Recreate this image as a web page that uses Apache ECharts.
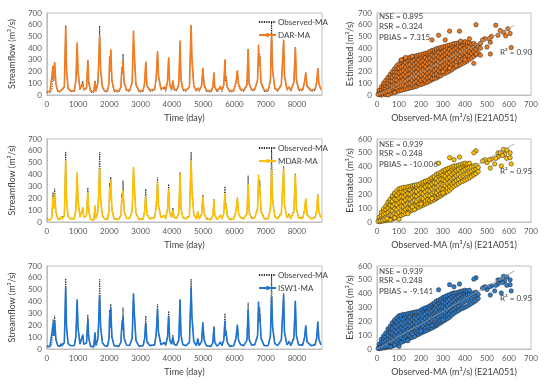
<!DOCTYPE html>
<html><head><meta charset="utf-8">
<script src="https://cdn.jsdelivr.net/npm/echarts@6/dist/echarts.min.js"></script>
<style>html,body{margin:0;padding:0;background:#fff}#c{width:550px;height:384px}</style>
</head><body><div id="c"></div>
<script>
// ---------- Time series (day, m3/s) ----------
const observedMA = [[0,25],[100,20],[160,40],[200,250],[225,120],[250,280],[290,90],[350,30],[420,25],[447,40],[480,25],[560,60],[604,595],[630,200],[680,50],[760,30],[880,30],[930,120],[969,390],[1000,180],[1060,45],[1120,30],[1150,120],[1180,40],[1270,50],[1312,290],[1340,100],[1400,25],[1500,20],[1541,120],[1570,30],[1630,90],[1655,240],[1690,590],[1720,200],[1780,60],[1850,30],[1940,25],[1990,100],[2010,330],[2025,200],[2045,380],[2080,120],[2150,30],[2300,25],[2370,60],[2400,240],[2420,180],[2437,350],[2470,100],[2550,35],[2650,30],[2730,100],[2771,460],[2800,300],[2850,80],[2950,25],[3080,30],[3130,100],[3145,190],[3166,280],[3200,70],[3300,30],[3450,40],[3500,150],[3541,375],[3570,150],[3650,40],[3760,60],[3800,30],[3860,110],[3896,320],[3930,80],[3990,40],[4031,120],[4070,40],[4150,35],[4220,80],[4260,420],[4290,120],[4350,40],[4450,30],[4560,60],[4615,590],[4640,300],[4700,70],[4780,30],[4830,60],[4870,30],[4950,70],[4990,230],[5030,80],[5100,30],[5250,25],[5310,60],[5344,190],[5370,60],[5450,25],[5552,60],[5600,30],[5660,80],[5698,300],[5715,120],[5730,160],[5770,60],[5850,25],[5980,30],[6050,100],[6094,205],[6130,80],[6200,40],[6300,30],[6400,80],[6438,390],[6470,90],[6550,35],[6650,40],[6740,120],[6771,360],[6790,250],[6810,350],[6850,100],[6950,30],[7080,30],[7150,120],[7188,630],[7220,200],[7290,50],[7380,30],[7500,80],[7573,470],[7600,150],[7680,40],[7750,70],[7800,30],[7900,100],[7948,410],[7980,120],[8050,40],[8180,35],[8240,100],[8281,190],[8320,70],[8450,30],[8580,40],[8630,100],[8666,230],[8700,90],[8766,40]];

const darMA = [[0,30],[100,30],[160,45],[200,250],[225,130],[250,280],[290,100],[350,35],[420,30],[447,45],[480,30],[560,70],[604,580],[630,220],[680,60],[760,35],[880,35],[930,130],[969,450],[1000,200],[1060,50],[1120,40],[1150,100],[1180,50],[1270,60],[1312,300],[1340,110],[1400,35],[1500,30],[1541,120],[1570,40],[1630,100],[1655,240],[1690,505],[1720,220],[1780,70],[1850,35],[1940,35],[1990,110],[2010,330],[2025,210],[2045,390],[2080,130],[2150,40],[2300,35],[2370,70],[2400,240],[2420,190],[2437,300],[2470,110],[2550,45],[2650,40],[2730,110],[2771,550],[2800,350],[2850,90],[2950,35],[3080,40],[3130,110],[3145,190],[3166,285],[3200,80],[3300,40],[3450,50],[3500,160],[3541,370],[3570,170],[3650,50],[3760,70],[3800,40],[3860,120],[3896,320],[3930,90],[3990,50],[4031,125],[4070,50],[4150,45],[4220,90],[4260,465],[4290,140],[4350,50],[4450,40],[4560,70],[4615,600],[4640,320],[4700,80],[4780,40],[4830,60],[4870,40],[4950,80],[4990,230],[5030,90],[5100,40],[5250,35],[5310,70],[5344,190],[5370,70],[5450,35],[5552,75],[5600,40],[5660,90],[5698,305],[5715,130],[5730,160],[5770,70],[5850,35],[5980,40],[6050,110],[6094,210],[6130,90],[6200,50],[6300,40],[6400,90],[6438,390],[6470,100],[6550,45],[6650,50],[6740,130],[6771,430],[6790,260],[6810,330],[6850,110],[6950,40],[7080,40],[7150,130],[7188,510],[7220,220],[7290,60],[7380,40],[7500,90],[7573,465],[7600,170],[7680,50],[7750,70],[7800,40],[7900,110],[7948,410],[7980,140],[8050,50],[8180,45],[8240,110],[8281,190],[8320,80],[8450,40],[8580,50],[8630,110],[8666,225],[8700,100],[8766,50]];

const mdarMA = [[0,20],[100,18],[160,35],[200,210],[225,110],[250,240],[290,80],[350,25],[420,20],[447,45],[480,25],[560,50],[604,520],[630,180],[680,45],[760,25],[880,25],[930,100],[969,420],[1000,170],[1060,40],[1120,30],[1150,120],[1180,40],[1270,50],[1312,250],[1340,90],[1400,20],[1500,15],[1541,140],[1570,30],[1630,80],[1655,200],[1690,450],[1720,180],[1780,50],[1850,25],[1940,20],[1990,90],[2010,290],[2025,180],[2045,350],[2080,100],[2150,25],[2300,20],[2370,55],[2400,210],[2420,160],[2437,270],[2470,90],[2550,30],[2650,30],[2730,90],[2771,465],[2800,280],[2850,70],[2950,20],[3080,25],[3130,90],[3145,150],[3166,215],[3200,60],[3300,25],[3450,35],[3500,130],[3541,340],[3570,140],[3650,35],[3760,55],[3800,30],[3860,100],[3896,275],[3930,70],[3990,40],[4031,100],[4070,40],[4150,30],[4220,70],[4260,410],[4290,110],[4350,35],[4450,25],[4560,50],[4615,515],[4640,260],[4700,60],[4780,25],[4830,90],[4870,25],[4950,60],[4990,215],[5030,70],[5100,25],[5250,20],[5310,50],[5344,185],[5370,55],[5450,20],[5552,60],[5600,25],[5660,70],[5698,240],[5715,110],[5730,150],[5770,50],[5850,20],[5980,25],[6050,90],[6094,200],[6130,70],[6200,35],[6300,25],[6400,70],[6438,325],[6470,80],[6550,30],[6650,35],[6740,110],[6771,400],[6790,230],[6810,300],[6850,90],[6950,25],[7080,25],[7150,110],[7188,440],[7220,180],[7290,45],[7380,25],[7500,70],[7573,450],[7600,140],[7680,35],[7750,60],[7800,25],[7900,90],[7948,400],[7980,110],[8050,35],[8180,30],[8240,90],[8281,200],[8320,60],[8450,25],[8580,35],[8630,90],[8666,230],[8700,80],[8766,35]];

const isw1MA = [[0,22],[100,20],[160,35],[200,210],[225,110],[250,240],[290,80],[350,28],[420,22],[447,45],[480,25],[560,55],[604,525],[630,185],[680,45],[760,28],[880,28],[930,105],[969,420],[1000,175],[1060,40],[1120,30],[1150,120],[1180,40],[1270,50],[1312,255],[1340,90],[1400,22],[1500,18],[1541,140],[1570,30],[1630,80],[1655,200],[1690,455],[1720,180],[1780,50],[1850,28],[1940,22],[1990,90],[2010,290],[2025,180],[2045,350],[2080,100],[2150,28],[2300,22],[2370,55],[2400,210],[2420,160],[2437,275],[2470,90],[2550,32],[2650,30],[2730,90],[2771,470],[2800,290],[2850,70],[2950,22],[3080,28],[3130,90],[3145,150],[3166,220],[3200,60],[3300,28],[3450,35],[3500,130],[3541,340],[3570,140],[3650,35],[3760,55],[3800,30],[3860,100],[3896,280],[3930,75],[3990,40],[4031,100],[4070,40],[4150,30],[4220,75],[4260,415],[4290,115],[4350,35],[4450,28],[4560,55],[4615,520],[4640,270],[4700,60],[4780,28],[4830,90],[4870,28],[4950,60],[4990,215],[5030,75],[5100,28],[5250,22],[5310,55],[5344,185],[5370,55],[5450,22],[5552,60],[5600,28],[5660,75],[5698,240],[5715,110],[5730,150],[5770,55],[5850,22],[5980,28],[6050,90],[6094,200],[6130,75],[6200,35],[6300,28],[6400,75],[6438,330],[6470,80],[6550,32],[6650,35],[6740,110],[6771,400],[6790,230],[6810,300],[6850,90],[6950,28],[7080,28],[7150,110],[7188,445],[7220,185],[7290,45],[7380,28],[7500,75],[7573,455],[7600,140],[7680,35],[7750,60],[7800,28],[7900,90],[7948,400],[7980,115],[8050,35],[8180,32],[8240,90],[8281,200],[8320,60],[8450,28],[8580,35],[8630,90],[8666,230],[8700,80],[8766,35]];

// ---------- Scatter: observed bins and estimated values read in each bin ----------
const obsBins = [10,20,30,40,50,60,70,80,90,100,110,120,130,140,150,160,170,180,190,200,210,220,230,240,250,260,270,280,290,300,310,320,330,340,350,360,370,380,390,400,410,420,430,440,450,460];

const darEstBins = [[5,25,40],[2,22,45,70],[10,35,60,85,100],[5,30,55,80,105,125],[12,40,70,100,130,150],[15,50,85,120,155,175],[20,45,80,115,150,185,200],[25,60,95,130,165,200,225],[30,55,90,125,160,195,230,250],[35,70,110,150,190,230,265],[40,80,120,160,200,240,280,295],[45,90,130,170,210,250,290,305],[50,75,115,155,195,235,275,310],[55,95,135,175,215,255,295,315],[60,100,140,180,220,260,300,320],[65,85,125,165,205,245,285,325],[70,105,145,185,225,265,305,330],[75,115,155,195,235,275,315,335],[85,100,140,180,220,260,300,340],[90,125,165,205,245,285,325,345],[95,135,175,215,255,295,335,350],[105,120,160,200,240,280,320,355],[110,145,185,225,265,305,345,360],[120,155,195,235,275,315,355,370],[130,140,180,220,260,300,340,380],[140,170,210,250,290,330,370,385],[145,180,220,260,300,340,380,395],[155,165,205,245,285,325,365,400],[165,195,235,275,315,355,395,405],[180,210,250,290,330,370,410],[185,225,265,305,345,385,415],[195,240,280,320,360,400,420],[205,230,270,310,350,390,425],[215,255,295,335,375,415,430],[230,265,305,345,385,425,440],[240,280,320,360,400,440],[250,300,340,380,420,445],[260,290,330,370,410,450],[270,310,350,390,430,450],[280,320,360,400,440,455],[290,340,380,420,450],[305,330,370,410,445],[315,355,395,435],[330,370,410,440],[345,390,425],[360,410]];
const darOutliers = [[450,600],[540,595],[330,545],[375,545],[280,510],[595,565],[605,525],[575,535],[550,510],[515,450],[500,410],[560,550],[585,505],[520,500],[510,480],[490,480],[480,470],[470,440],[470,400],[450,350],[470,340],[515,350],[610,405],[250,470],[310,470],[380,460],[420,480],[440,270],[400,300],[330,230],[300,200],[360,250],[20,0],[40,5],[60,10],[80,20],[50,0],[110,300],[160,330],[130,320],[5,5],[15,10],[25,15],[35,20],[45,30],[55,35]];

const mdarEstBins = [[3,20,35],[5,25,50,70],[8,30,55,80,95],[10,35,60,90,115],[14,40,70,100,130,145],[18,50,85,120,150,165],[22,45,80,115,150,180,190],[28,60,95,130,165,200,210],[34,55,90,125,160,195,225],[40,70,105,140,175,210,240],[48,80,115,150,185,220,245],[55,75,110,145,180,215,250],[62,90,125,160,195,230,250],[70,100,135,170,205,240,255],[78,95,130,165,200,235,258],[85,110,145,180,215,250,262],[92,120,155,190,225,260,265],[100,115,150,185,220,255,270],[107,130,165,200,235,270],[115,140,175,210,245,280],[122,135,170,205,240,275,288],[130,150,185,220,255,290,295],[137,160,195,230,265,300],[145,155,190,225,260,295,310],[152,170,205,240,275,310,320],[160,180,215,250,285,320,330],[170,175,210,245,280,315,345],[180,195,230,265,300,335,350],[190,205,240,275,310,345,360],[200,235,270,305,340,370],[210,225,260,295,330,365,378],[220,245,280,315,350,385],[230,255,290,325,360,390],[245,275,310,345,380,398],[258,285,320,355,390,405],[268,300,335,370,405],[278,310,345,380,410],[288,325,360,395,415],[295,335,370,405,420],[302,345,380,415,425],[310,350,390,420],[320,360,395,425],[330,370,400],[340,380,405],[350,385,410],[365,395]];
const mdarOutliers = [[450,515],[330,465],[375,470],[280,425],[550,500],[575,525],[590,460],[605,465],[535,420],[520,455],[500,430],[565,405],[605,500],[440,500],[350,450],[590,520],[580,490],[560,500],[570,480],[550,470],[540,460],[510,450],[490,450],[480,440],[515,390],[610,420],[100,20],[140,60],[170,90],[160,110],[60,15],[80,30],[200,130],[250,170],[300,210],[5,4],[15,8],[25,12],[35,18],[45,25]];

const isw1EstBins = [[3,20,35],[5,25,50,70],[8,30,55,80,95],[10,35,60,90,115],[14,40,70,100,130,145],[18,50,85,120,150,165],[22,45,80,115,150,180,190],[28,60,95,130,165,200,210],[34,55,90,125,160,195,225],[40,70,105,140,175,210,240],[48,80,115,150,185,220,245],[55,75,110,145,180,215,250],[62,90,125,160,195,230,250],[70,100,135,170,205,240,255],[78,95,130,165,200,235,258],[85,110,145,180,215,250,262],[92,120,155,190,225,260,265],[100,115,150,185,220,255,270],[107,130,165,200,235,270],[115,140,175,210,245,282],[122,135,170,205,240,275,290],[130,150,185,220,255,290,297],[137,160,195,230,265,302],[145,155,190,225,260,295,312],[152,170,205,240,275,310,322],[160,180,215,250,285,320,332],[170,175,210,245,280,315,347],[180,195,230,265,300,335,352],[190,205,240,275,310,345,362],[200,235,270,305,340,372],[210,225,260,295,330,365,380],[220,245,280,315,350,387],[230,255,290,325,360,392],[245,275,310,345,380,400],[258,285,320,355,390,406],[268,300,335,370,406],[278,310,345,380,411],[288,325,360,395,416],[295,335,370,405,420],[302,345,380,415,425],[310,350,390,420],[320,360,395,425],[330,370,400],[340,380,405],[350,385,410],[365,395]];
const isw1Outliers = [[450,515],[330,465],[375,470],[280,428],[550,500],[575,525],[590,460],[605,465],[535,420],[520,455],[500,430],[565,405],[605,500],[440,505],[350,450],[590,520],[580,490],[560,500],[570,480],[550,470],[540,460],[510,450],[490,450],[480,440],[515,390],[610,420],[100,20],[140,60],[170,90],[160,110],[60,15],[80,30],[200,130],[250,170],[300,210],[5,4],[15,8],[25,12],[35,18],[45,25]];

// trend lines (observed, estimated) endpoints
const darTrend = [[0,0],[625,595]];
const mdarTrend = [[0,0],[625,565]];
const isw1Trend = [[0,0],[625,565]];

// ---------- Labels ----------
const modelNames = ['DAR-MA','MDAR-MA','ISW1-MA'];
const nseVals = ['0.895','0.939','0.939'];
const rsrVals = ['0.324','0.248','0.248'];
const pbiasVals = ['7.315','-10.006','-9.141'];
const r2Vals = ['0.90','0.95','0.95'];
const scatterMax = [700,600,600];
const tsTicks = [0,1000,2000,3000,4000,5000,6000,7000,8000];

// ---------- Styles ----------
const lineColors = ['#F47B20','#FFC000','#1F74D2'];
const dotColors = ['#EE7A20','#FFC000','#2E7CCB'];
const FONT = 'Lato,"Liberation Sans",sans-serif';
const labCol = '#595959';
const nameCol = '#404040';
const TICK_FS = 8, NAME_FS = 9, ANN_FS = 8, LEG_FS = 8;

function buildScatter(estBins, outliers) {
  const out = [];
  obsBins.forEach((o, i) => (estBins[i] || []).forEach(e => out.push([o, e])));
  return out.concat(outliers);
}

const tsSeries = [darMA, mdarMA, isw1MA];
const scSeries = [buildScatter(darEstBins, darOutliers), buildScatter(mdarEstBins, mdarOutliers), buildScatter(isw1EstBins, isw1Outliers)];
const trends = [darTrend, mdarTrend, isw1Trend];

const rowTops = [13, 139, 266];
const rowH = [82, 83, 83];

const grid = [], xAxis = [], yAxis = [], series = [], legend = [], graphic = [];

function axisCommon() {
  return {
    axisLine: {show: true, lineStyle: {color: '#bfbfbf', width: 1}},
    axisTick: {show: false},
    splitLine: {show: false},
    axisLabel: {color: labCol, fontFamily: FONT, fontSize: TICK_FS, margin: 5},
    nameTextStyle: {color: nameCol, fontFamily: FONT, fontSize: NAME_FS}
  };
}

for (let r = 0; r < 3; r++) {
  const top = rowTops[r], h = rowH[r];
  grid.push({left: 40, top: top, width: 282, height: h, show: true, borderColor: '#bfbfbf', borderWidth: 1});
  grid.push({left: 377, top: top, width: 154, height: h, show: true, borderColor: '#bfbfbf', borderWidth: 1});

  xAxis.push(Object.assign(axisCommon(), {
    type: 'value', gridIndex: r*2, min: 0, max: 8800, interval: 1000,
    name: 'Time (day)', nameLocation: 'middle', nameGap: 19,
    axisLabel: {color: labCol, fontFamily: FONT, fontSize: TICK_FS, margin: 5, showMaxLabel: false,
      formatter: v => tsTicks.indexOf(v) >= 0 ? String(v) : ''}
  }));
  yAxis.push(Object.assign(axisCommon(), {
    type: 'value', gridIndex: r*2, min: 0, max: 700, interval: 100,
    name: 'Streamflow (m³/s)', nameLocation: 'middle', nameGap: 22
  }));
  xAxis.push(Object.assign(axisCommon(), {
    type: 'value', gridIndex: r*2+1, min: 0, max: 700, interval: 100,
    name: 'Observed-MA (m³/s) (E21A051)', nameLocation: 'middle', nameGap: 19
  }));
  yAxis.push(Object.assign(axisCommon(), {
    type: 'value', gridIndex: r*2+1, min: 0, max: scatterMax[r], interval: 100,
    name: 'Estimated (m³/s)', nameLocation: 'middle', nameGap: 21
  }));

  series.push({
    name: 'Observed-MA', type: 'line', xAxisIndex: r*2, yAxisIndex: r*2,
    data: observedMA, symbol: 'none', z: 2,
    lineStyle: {color: '#222', width: 1, type: [1.2, 1.2]}, itemStyle: {color: '#222'}
  });
  series.push({
    name: modelNames[r], type: 'line', xAxisIndex: r*2, yAxisIndex: r*2,
    data: tsSeries[r], symbol: 'none', z: 3,
    lineStyle: {color: lineColors[r], width: 1.6}, itemStyle: {color: lineColors[r]}
  });
  series.push({
    type: 'scatter', xAxisIndex: r*2+1, yAxisIndex: r*2+1,
    data: scSeries[r], symbolSize: 4.4,
    itemStyle: {color: dotColors[r], borderColor: '#222', borderWidth: 0.5, opacity: 1}
  });
  series.push({
    type: 'line', xAxisIndex: r*2+1, yAxisIndex: r*2+1,
    data: trends[r], symbol: 'none', z: 4, silent: true,
    lineStyle: {color: '#9a9a9a', width: 0.8}
  });

  legend.push({
    data: [
      {name: 'Observed-MA', itemStyle: {opacity: 0}},
      {name: modelNames[r]}
    ],
    orient: 'vertical', left: 253, top: top, itemWidth: 17, itemHeight: 5, itemGap: 5,
    textStyle: {color: nameCol, fontFamily: FONT, fontSize: LEG_FS, padding: [0,0,0,-3]}
  });

  const yOff = [[16,26,37],[144,153.5,164],[271,280.5,291]][r];
  const lines = ['NSE = ' + nseVals[r], 'RSR = ' + rsrVals[r], 'PBIAS = ' + pbiasVals[r]];
  lines.forEach((t, i) => graphic.push({
    type: 'text', x: 379, y: yOff[i], z: 100, zlevel: 1,
    style: {text: t, fill: nameCol, font: ANN_FS + 'px ' + FONT, verticalAlign: 'middle'}
  }));
  const r2y = [52.7, 171.3, 298.7][r];
  graphic.push({
    type: 'text', x: 500, y: r2y, z: 100, zlevel: 1,
    style: {text: 'R² = ' + r2Vals[r], fill: nameCol, font: ANN_FS + 'px ' + FONT, verticalAlign: 'middle'}
  });
}

const chart = echarts.init(document.getElementById('c'), null, {renderer: 'canvas'});
chart.setOption({
  backgroundColor: '#fff', animation: false,
  grid, xAxis, yAxis, series, legend, graphic
});
</script></body></html>
